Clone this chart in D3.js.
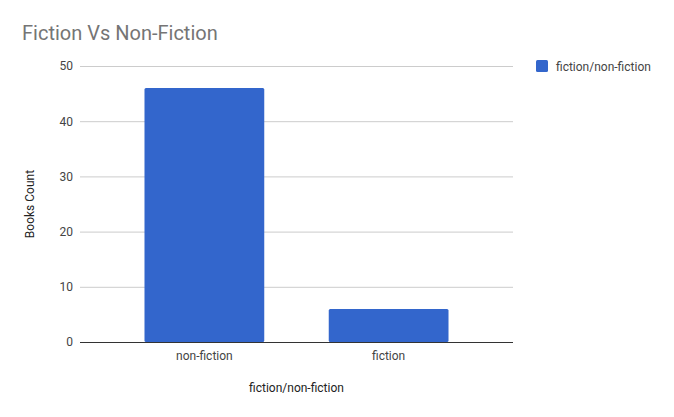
<!DOCTYPE html>
<html lang="en">
<head>
<meta charset="UTF-8">
<title>Fiction Vs Non-Fiction</title>
<script src="https://d3js.org/d3.v7.min.js"></script>
<style>
    body { margin: 0; background: #fff; }
    text { font-family: Roboto, sans-serif; }
</style>
</head>
<body>
<div id="chart"></div>
<script>
    const categories = ["non-fiction", "fiction"];
    const counts = [46, 6];
    const yTicks = [0, 10, 20, 30, 40, 50];
    const seriesName = "fiction/non-fiction";

    const width = 674, height = 417;
    const plotLeft = 80, plotRight = 513, plotTop = 66, plotBottom = 342;

    const svg = d3.select("#chart").append("svg")
        .attr("width", width)
        .attr("height", height);

    const x = d3.scaleBand()
        .domain(categories)
        .range([plotLeft, plotRight])
        .paddingInner(0.35)
        .paddingOuter(0.35);

    const y = d3.scaleLinear()
        .domain([0, 50])
        .range([plotBottom, plotTop]);

    // Titulo
    svg.append("text")
        .attr("x", 22)
        .attr("y", 40)
        .attr("font-size", "20px")
        .attr("fill", "#757575")
        .text("Fiction Vs Non-Fiction");

    // Lineas de la cuadricula
    svg.selectAll(".grid")
        .data(yTicks.filter(d => d > 0))
        .enter()
        .append("line")
        .attr("x1", plotLeft)
        .attr("x2", plotRight)
        .attr("y1", d => y(d) + 0.5)
        .attr("y2", d => y(d) + 0.5)
        .attr("stroke", "#cccccc");

    // Eje Y
    const yAxis = svg.append("g")
        .attr("transform", `translate(${plotLeft},0)`)
        .call(d3.axisLeft(y).tickValues(yTicks).tickSize(0).tickPadding(7));
    yAxis.select(".domain").remove();
    yAxis.selectAll("text")
        .attr("font-size", "12px")
        .attr("font-family", "Roboto, sans-serif")
        .attr("fill", "#444");

    // Barras
    svg.selectAll(".bar")
        .data(counts)
        .enter()
        .append("rect")
        .attr("class", "bar")
        .attr("x", (d, i) => x(categories[i]))
        .attr("y", d => y(d))
        .attr("width", x.bandwidth())
        .attr("height", d => y(0) - y(d))
        .attr("rx", 1.5)
        .attr("fill", "#3366cc");

    // Linea base
    svg.append("line")
        .attr("x1", plotLeft)
        .attr("x2", plotRight)
        .attr("y1", y(0) + 0.5)
        .attr("y2", y(0) + 0.5)
        .attr("stroke", "#333");

    // Eje X
    const xAxis = svg.append("g")
        .attr("transform", `translate(0,${plotBottom})`)
        .call(d3.axisBottom(x).tickSize(0).tickPadding(9));
    xAxis.select(".domain").remove();
    xAxis.selectAll("text")
        .attr("font-size", "12px")
        .attr("font-family", "Roboto, sans-serif")
        .attr("fill", "#444");

    // Titulos de los ejes
    svg.append("text")
        .attr("x", (plotLeft + plotRight) / 2)
        .attr("y", 392)
        .attr("text-anchor", "middle")
        .attr("font-size", "12px")
        .attr("fill", "#222")
        .text(seriesName);

    svg.append("text")
        .attr("transform", `translate(34,${(plotTop + plotBottom) / 2}) rotate(-90)`)
        .attr("text-anchor", "middle")
        .attr("font-size", "12px")
        .attr("fill", "#222")
        .text("Books Count");

    // Leyenda
    const legend = svg.append("g").attr("transform", "translate(536,60)");
    legend.append("rect")
        .attr("width", 12)
        .attr("height", 12)
        .attr("rx", 1.5)
        .attr("fill", "#3366cc");
    legend.append("text")
        .attr("x", 20)
        .attr("y", 10.5)
        .attr("font-size", "12px")
        .attr("fill", "#444")
        .text(seriesName);
</script>
</body>
</html>
